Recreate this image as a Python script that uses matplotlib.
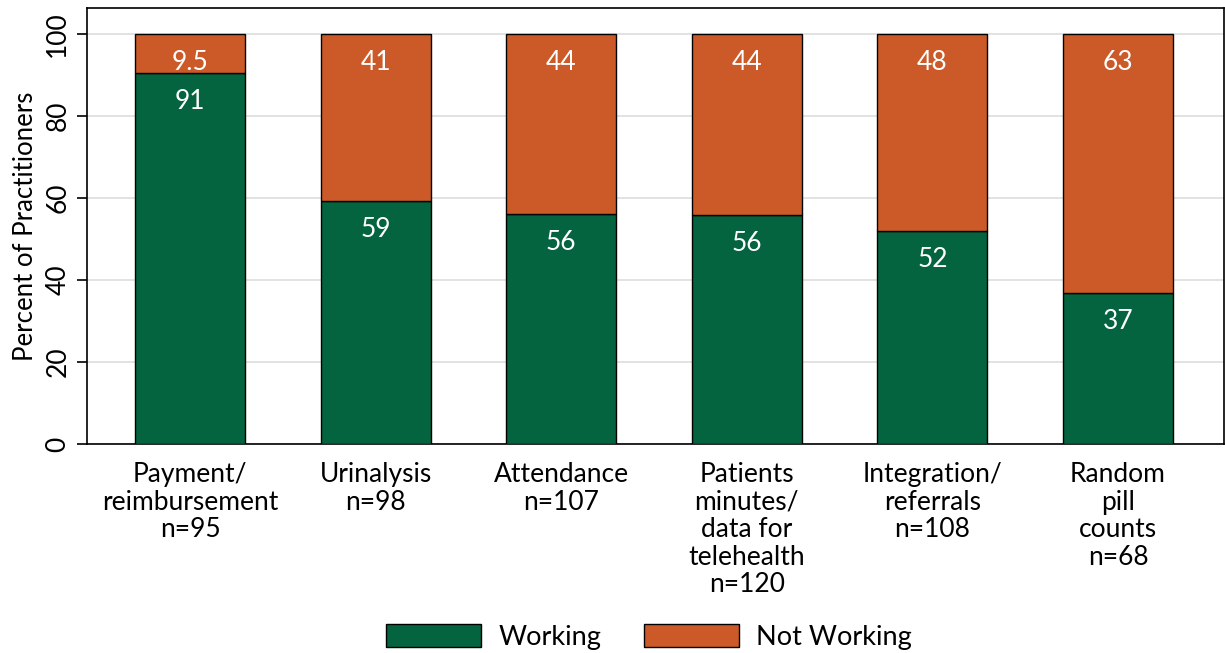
import numpy as np
import matplotlib
matplotlib.use('Agg')
import matplotlib.pyplot as plt

plt.rcParams['font.family'] = ['Lato', 'DejaVu Sans']

categories = ['Payment/\nreimbursement\nn=95', 'Urinalysis\nn=98', 'Attendance\nn=107',
              'Patients\nminutes/\ndata for\ntelehealth\nn=120', 'Integration/\nreferrals\nn=108',
              'Random\npill\ncounts\nn=68']
working = [90.5, 59.2, 56.1, 55.9, 52.0, 36.8]
not_working = [9.5, 40.8, 43.9, 44.1, 48.0, 63.2]
working_labels = ['91', '59', '56', '56', '52', '37']
not_working_labels = ['9.5', '41', '44', '44', '48', '63']

green = '#03643F'
orange = '#CC5A28'

fig = plt.figure(figsize=(12.25, 6.53), dpi=100)
ax = fig.add_axes([0.071, 0.320, 0.928, 0.668])

x = np.arange(len(categories))
w = 0.593
ax.bar(x, working, width=w, color=green, edgecolor='black', linewidth=1, label='Working', zorder=3)
ax.bar(x, not_working, width=w, bottom=working, color=orange, edgecolor='black', linewidth=1,
       label='Not Working', zorder=3)

for i in range(len(x)):
    ax.annotate(working_labels[i], (x[i], working[i]), xytext=(0, -20.5), textcoords='offset points',
                ha='center', va='center', color='white', fontsize=19, zorder=4)
    ax.annotate(not_working_labels[i], (x[i], working[i] + not_working[i]), xytext=(0, -20.5),
                textcoords='offset points', ha='center', va='center', color='white', fontsize=19, zorder=4)

ax.set_ylim(0, 106.3)
ax.set_xlim(-0.555, 5.57)
ax.set_yticks(np.arange(0, 101, 20))
ax.set_yticklabels([str(v) for v in range(0, 101, 20)], rotation=90, va='center', fontsize=19)
ax.set_xticks(x)
ax.set_xticklabels(categories, fontsize=19, linespacing=1.13)
ax.tick_params(axis='x', length=0, pad=13)
ax.tick_params(axis='y', length=7, width=1.2, pad=5)
ax.yaxis.grid(True, color='#DDDDDD', linewidth=1.2, zorder=0)
ax.set_axisbelow(True)
ax.set_ylabel('Percent of Practitioners', fontsize=18.5, labelpad=5)
for s in ax.spines.values():
    s.set_linewidth(1.2)

fig.legend(loc='center', bbox_to_anchor=(0.53, 0.025), ncol=2, frameon=False, fontsize=19.5,
           handlelength=3.5, handleheight=0.92, columnspacing=1.6, handletextpad=0.63)

fig.savefig('out.png', dpi=100)
